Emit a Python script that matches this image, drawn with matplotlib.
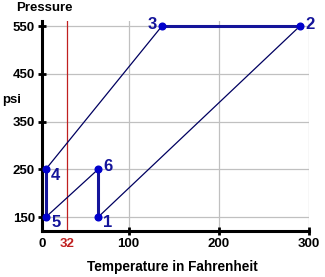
import matplotlib
matplotlib.use('Agg')
import matplotlib.pyplot as plt

plt.rcParams['font.family'] = ['Liberation Sans', 'DejaVu Sans']

# cycle states: temperature (F) and pressure (psi)
temps = [66, 290, 137, 8, 8, 66]
press = [150, 550, 550, 250, 150, 250]
names = ['1', '2', '3', '4', '5', '6']

# thin (diagonal) and thick (vertical / horizontal) legs, by state index
thin_legs = [(0, 1), (3, 2), (4, 5)]
thick_legs = [(2, 1), (3, 4), (5, 0)]

xticks = [100, 200, 300]
yticks = [150, 250, 350, 450, 550]
freezing = 32

navy = '#000060'
blue = '#14149a'

fig = plt.figure(figsize=(3.25, 2.77), dpi=100)
ax = fig.add_axes([42 / 325, 1 - 230.7 / 277, 267 / 325, (230.7 - 21) / 277])
ax.set_xlim(4, 300)
ax.set_ylim(122, 560.5)

ax.grid(True, color='#c0c0c0', linewidth=0.9)
ax.set_axisbelow(True)
ax.axvline(freezing, color='#c02020', linewidth=0.9, zorder=1)

for a, b in thin_legs:
    ax.plot([temps[a], temps[b]], [press[a], press[b]], color=navy, linewidth=0.9, zorder=2)
for a, b in thick_legs:
    ax.plot([temps[a], temps[b]], [press[a], press[b]], color=blue, linewidth=2.2, zorder=3)
ax.plot(temps, press, 'o', color='#0000cc', markersize=4.8, zorder=4)

offsets = {'1': (4, -4, 'left'), '2': (4, 1, 'left'), '3': (-4, 1, 'right'),
           '4': (4, -4, 'left'), '5': (4, -4, 'left'), '6': (4, 2, 'left')}
for t, p, n in zip(temps, press, names):
    dx, dy, ha = offsets[n]
    ax.annotate(n, (t, p), xytext=(dx, dy), textcoords='offset points',
                ha=ha, va='center', fontsize=12, fontweight='bold', color=blue, zorder=5)

for side in ['top', 'right']:
    ax.spines[side].set_visible(False)
for side in ['left', 'bottom']:
    ax.spines[side].set_linewidth(2.2)
    ax.spines[side].set_color('black')

ax.set_xticks([4] + xticks)
ax.set_xticklabels(['0'] + [str(v) for v in xticks])
ax.set_yticks(yticks)
ax.set_yticklabels([str(v) for v in yticks])
ax.tick_params(axis='both', direction='inout', length=6, width=2, labelsize=9.5,
               color='black', pad=2)
for lab in ax.get_xticklabels() + ax.get_yticklabels():
    lab.set_fontweight('bold')
ax.xaxis.get_major_ticks()[0].tick1line.set_visible(False)

ax.text(freezing, -0.035, str(freezing), transform=ax.get_xaxis_transform(),
        ha='center', va='top', color='#c02020', fontsize=9.5, fontweight='bold')

fig.text(44 / 325, 1 - 8 / 277, 'Pressure', ha='center', va='center',
         fontsize=9.5, fontweight='bold')
fig.text(12 / 325, 1 - 100 / 277, 'psi', ha='center', va='center',
         fontsize=9.5, fontweight='bold')
fig.text(172 / 325, 1 - 267 / 277, 'Temperature in Fahrenheit', ha='center', va='center',
         fontsize=9.8, fontweight='bold')

fig.savefig('out.png', dpi=100)
